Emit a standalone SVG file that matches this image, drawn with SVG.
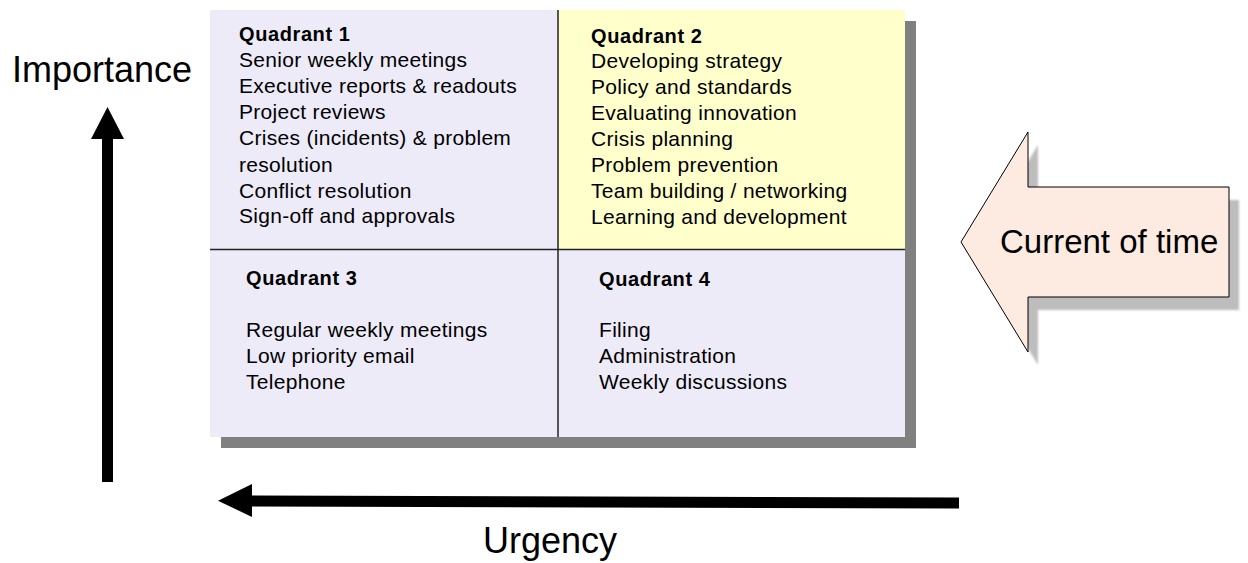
<svg xmlns="http://www.w3.org/2000/svg" width="1248" height="563" viewBox="0 0 1248 563">
<defs>
<style>
.t{font-family:"Liberation Sans",Arial,sans-serif;fill:#000}
.h{font-size:20px;font-weight:bold;letter-spacing:0.6px}
.b{font-size:21px;letter-spacing:0.3px}
.ax{font-size:36px}
.div{stroke:#222;stroke-width:1.5;fill:none}
.arr{fill:#000;stroke:none}
</style>
<filter id="soft" x="-10%" y="-10%" width="120%" height="120%"><feGaussianBlur stdDeviation="1.2"/></filter>
</defs>
<rect width="1248" height="563" fill="#fff"/>

<g id="matrix">
<rect x="221" y="21" width="695" height="427" fill="#808080"/>
<rect x="210" y="10" width="348" height="239" fill="#EDEBF8"/>
<rect x="558" y="10" width="347" height="239" fill="#FFFFCC"/>
<rect x="210" y="249" width="348" height="188" fill="#EDEBF8"/>
<rect x="558" y="249" width="347" height="188" fill="#EDEBF8"/>
<line class="div" x1="558" y1="10" x2="558" y2="437"/>
<line class="div" x1="210" y1="249.5" x2="905" y2="249.5"/>
</g>

<g id="q1">
<text class="t h" x="239" y="41">Quadrant 1</text>
<text class="t b" x="239" y="67">Senior weekly meetings</text>
<text class="t b" x="239" y="93">Executive reports &amp; readouts</text>
<text class="t b" x="239" y="119">Project reviews</text>
<text class="t b" x="239" y="145">Crises (incidents) &amp; problem</text>
<text class="t b" x="239" y="171.5">resolution</text>
<text class="t b" x="239" y="198">Conflict resolution</text>
<text class="t b" x="239" y="223">Sign-off and approvals</text>
</g>

<g id="q2">
<text class="t h" x="591" y="43">Quadrant 2</text>
<text class="t b" x="591" y="68">Developing strategy</text>
<text class="t b" x="591" y="94">Policy and standards</text>
<text class="t b" x="591" y="120">Evaluating innovation</text>
<text class="t b" x="591" y="146">Crisis planning</text>
<text class="t b" x="591" y="172">Problem prevention</text>
<text class="t b" x="591" y="198">Team building / networking</text>
<text class="t b" x="591" y="224">Learning and development</text>
</g>

<g id="q3">
<text class="t h" x="246" y="285">Quadrant 3</text>
<text class="t b" x="246" y="337">Regular weekly meetings</text>
<text class="t b" x="246" y="363">Low priority email</text>
<text class="t b" x="246" y="389">Telephone</text>
</g>

<g id="q4">
<text class="t h" x="599" y="286">Quadrant 4</text>
<text class="t b" x="599" y="337">Filing</text>
<text class="t b" x="599" y="363">Administration</text>
<text class="t b" x="599" y="389">Weekly discussions</text>
</g>

<g id="current">
<polygon points="971,255 1038,145 1038,200 1239,200 1239,310 1038,310 1038,365" fill="#bdbdbd" filter="url(#soft)"/>
<polygon points="961,242 1028,132 1028,187 1229,187 1229,297 1028,297 1028,352" fill="#FDEBE1" stroke="#000" stroke-width="1"/>
<text class="t" x="1000" y="253" font-size="33">Current of time</text>
</g>

<g id="connectors">
<g id="importance-axis">
<rect class="arr" x="102" y="137" width="11" height="345"/>
<polygon class="arr" points="107.5,107 91,139 124,139"/>
</g>
<g id="urgency-axis">
<polygon class="arr" points="250,495.5 959,497.5 959,508.5 250,506.5"/>
<polygon class="arr" points="218,500.7 252,484 252,517"/>
</g>
</g>

<g id="labels">
<text class="t ax" x="12" y="82">Importance</text>
<text class="t ax" x="483" y="553">Urgency</text>
</g>
</svg>
